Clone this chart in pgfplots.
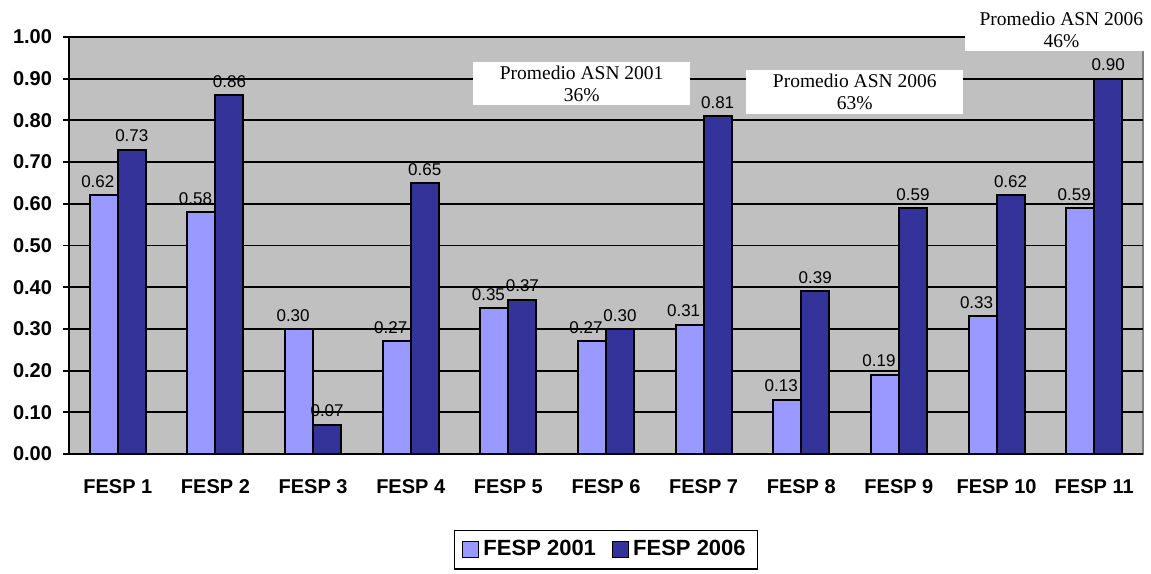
\documentclass[border=0pt]{standalone}
\usepackage{fontspec}
\setmainfont{Liberation Sans}
\newfontfamily\boxfont{Liberation Serif}
\usepackage{pgfplots}
\pgfplotsset{compat=1.18}
\definecolor{fesplight}{RGB}{153,153,255}
\definecolor{fespdark}{RGB}{51,51,153}
\definecolor{plotbg}{RGB}{192,192,192}
\definecolor{plotframe}{RGB}{128,128,128}

\pgfplotsset{sqlegend/.style={legend image code/.code={\draw[##1,draw=black,line width=0.6pt] (0pt,-4pt) rectangle (8pt,4pt);}}}

\begin{document}
\begin{tikzpicture}
\begin{axis}[
  scale only axis,
  width=537pt, height=208.5pt,
  ybar=0pt, bar width=14pt,
  xmin=-0.5, xmax=10.5,
  ymin=0, ymax=1,
  clip=false,
  axis background/.style={fill=plotbg, draw=plotframe, line width=0.8pt},
  axis x line*=bottom, axis y line*=left,
  axis line style={-, black, line width=1pt},
  xtick={0,...,10},
  xticklabels={FESP 1,FESP 2,FESP 3,FESP 4,FESP 5,FESP 6,FESP 7,FESP 8,FESP 9,FESP 10,FESP 11},
  minor xtick={-0.5,0.5,1.5,2.5,3.5,4.5,5.5,6.5,7.5,8.5,9.5,10.5},
  xtick style={draw=none},
  minor x tick style={black, line width=0.9pt},
  minor tick length=2.5pt,
  ytick={0,0.1,0.2,0.3,0.4,0.5,0.6,0.7,0.8,0.9,1.0},
  ytick style={black, line width=0.9pt},
  major tick length=3pt,
  tick align=outside,
  ymajorgrids,
  major grid style={black, line width=0.9pt},
  /pgf/number format/assume math mode=true,
  yticklabel style={font=\bfseries\fontsize{10}{12}\selectfont, xshift=-2pt,
    /pgf/number format/fixed, /pgf/number format/fixed zerofill, /pgf/number format/precision=2},
  xticklabel style={font=\bfseries\fontsize{10}{12}\selectfont, yshift=-6pt},
  nodes near coords,
  nodes near coords style={font=\fontsize{8.5}{10}\selectfont, black,
    /pgf/number format/fixed, /pgf/number format/fixed zerofill, /pgf/number format/precision=2},
  legend style={at={(0.5,-0.1823)}, anchor=north, legend columns=2, draw=black, line width=0.6pt,
    font=\bfseries\fontsize{11}{13}\selectfont, inner xsep=4pt, inner ysep=3pt,
    /tikz/every even column/.append style={column sep=6pt}},
]
\addplot[fill=fesplight, draw=black, line width=1pt, sqlegend,
  every node near coord/.append style={xshift=-3pt}] coordinates {
(0,0.62) (1,0.58) (2,0.30) (3,0.27) (4,0.35) (5,0.27)
(6,0.31) (7,0.13) (8,0.19) (9,0.33) (10,0.59)
};
\addplot[fill=fespdark, draw=black, line width=1pt, sqlegend] coordinates {
(0,0.73) (1,0.86) (2,0.07) (3,0.65) (4,0.37) (5,0.30)
(6,0.81) (7,0.39) (8,0.59) (9,0.62) (10,0.90)
};
\legend{FESP 2001,FESP 2006}

% average boxes
\node[fill=white, minimum width=108.5pt, minimum height=21.5pt, inner sep=0pt] at (axis cs:4.751,0.8885) {};
\node[font=\boxfont\fontsize{9.75}{11}\selectfont, align=center, inner sep=0pt] at (axis cs:4.751,0.8885) {Promedio ASN 2001\\36\%};
\node[fill=white, minimum width=108.5pt, minimum height=22pt, inner sep=0pt] at (axis cs:7.548,0.868) {};
\node[font=\boxfont\fontsize{9.75}{11}\selectfont, align=center, inner sep=0pt] at (axis cs:7.548,0.868) {Promedio ASN 2006\\63\%};
\node[fill=white, minimum width=93pt, minimum height=25.5pt, inner sep=0pt] at (axis cs:9.633,1.0276) {};
\node[font=\boxfont\fontsize{9.75}{11}\selectfont, align=center, inner sep=0pt] at (axis cs:9.664,1.0168) {Promedio ASN 2006\\46\%};
\end{axis}
\pgfresetboundingbox
\path[use as bounding box] ([shift={(-34.5pt,-59.5pt)}]current axis.south west) rectangle ([shift={(4pt,18.5pt)}]current axis.north east);
\end{tikzpicture}
\end{document}
